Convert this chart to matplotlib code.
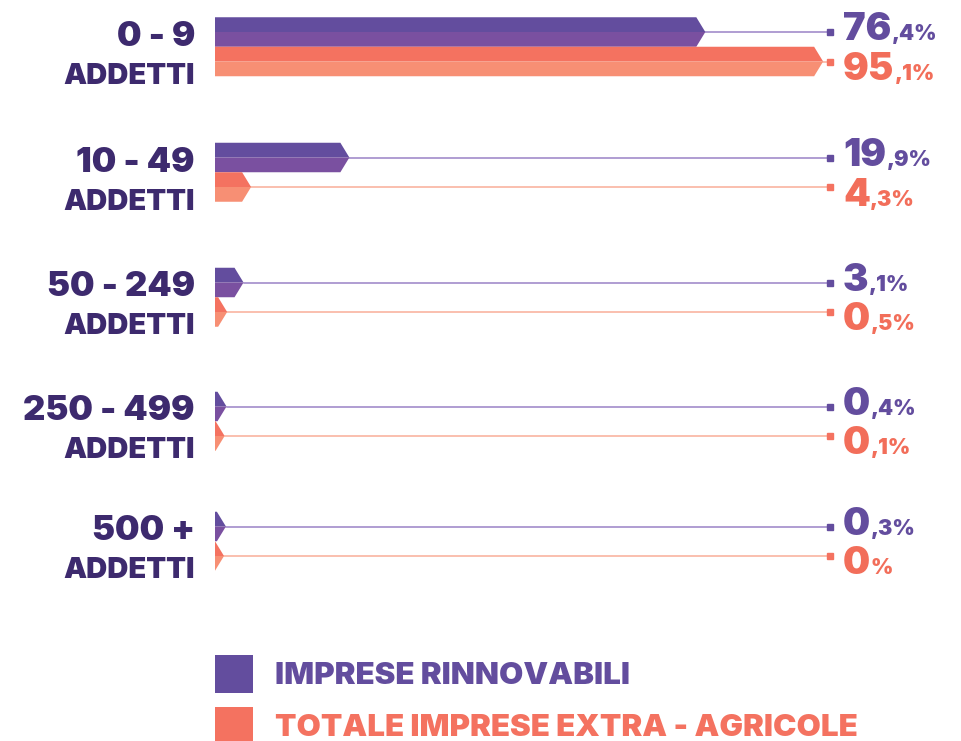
import matplotlib
matplotlib.use("Agg")
import matplotlib.pyplot as plt
from matplotlib.patches import Polygon, Rectangle

categories = ["0 - 9", "10 - 49", "50 - 249", "250 - 499", "500 +"]
sub_label = "ADDETTI"
rinnovabili = [76.4, 19.9, 3.1, 0.4, 0.3]
rinnovabili_lbl = [("76", ",4%"), ("19", ",9%"), ("3", ",1%"), ("0", ",4%"), ("0", ",3%")]
totale = [95.1, 4.3, 0.5, 0.1, 0.0]
totale_lbl = [("95", ",1%"), ("4", ",3%"), ("0", ",5%"), ("0", ",1%"), ("0", "%")]
series_names = ["IMPRESE RINNOVABILI", "TOTALE IMPRESE EXTRA - AGRICOLE"]

PURPLE_TOP = "#634d9e"
PURPLE_BOT = "#7a50a0"
PURPLE_LINE = "#9a82c6"
PURPLE_TXT = "#634d9e"
ORANGE_TOP = "#f47260"
ORANGE_BOT = "#f78f74"
ORANGE_LINE = "#f9ad98"
ORANGE_TXT = "#f26e5a"
DARK = "#3d2a6e"
FONT = "Inter"
WEIGHT = 900

W, H = 962, 741
PX = 6.3  # pixels per percent
X0 = 215
fig = plt.figure(figsize=(W / 100, H / 100), dpi=100)
ax = fig.add_axes([0, 0, 1, 1])
ax.set_xlim(-X0 / PX, (W - X0) / PX)
ax.set_ylim(H, 0)
ax.axis("off")

tip = 9 / PX
bar_h = 29.5
line_end = (830 - X0) / PX
lbl_x = (843 - X0) / PX
group_y = [32, 157.5, 282.5, 406.5, 526.5]  # layout: vertical centre of each group's first bar


def arrow(v, cy, ctop, cbot):
    top = cy - bar_h / 2
    bot = cy + bar_h / 2
    ax.add_patch(Polygon([(0, top), (v, top), (v + tip, cy), (0, cy)],
                         closed=True, facecolor=ctop, edgecolor="none"))
    ax.add_patch(Polygon([(0, cy), (v + tip, cy), (v, bot), (0, bot)],
                         closed=True, facecolor=cbot, edgecolor="none"))


def value_label(parts, y, color):
    t = ax.text(lbl_x, y, parts[0], fontsize=27.5, fontweight=WEIGHT, family=FONT,
                color=color, ha="left", va="baseline")
    fig.canvas.draw()
    bb = t.get_window_extent()
    inv = ax.transData.inverted()
    x_end = inv.transform((bb.x1, 0))[0]
    ax.text(x_end + 0.05, y, parts[1], fontsize=15.5, fontweight=WEIGHT, family=FONT,
            color=color, ha="left", va="baseline")


for i, cat in enumerate(categories):
    cp = group_y[i]
    co = cp + bar_h
    ax.plot([rinnovabili[i] + tip, line_end], [cp, cp], color=PURPLE_LINE, lw=1.1, zorder=1)
    ax.plot([line_end], [cp], marker="s", ms=5, color=PURPLE_TOP, zorder=2)
    ax.plot([totale[i] + tip, line_end], [co, co], color=ORANGE_LINE, lw=1.1, zorder=1)
    ax.plot([line_end], [co], marker="s", ms=5, color=ORANGE_TOP, zorder=2)
    arrow(rinnovabili[i], cp, PURPLE_TOP, PURPLE_BOT)
    arrow(totale[i], co, ORANGE_TOP, ORANGE_BOT)
    value_label(rinnovabili_lbl[i], cp + 8.5, PURPLE_TXT)
    value_label(totale_lbl[i], co + 18.5, ORANGE_TXT)
    lx = (195 - X0) / PX
    ax.text(lx, cp + 14, cat, fontsize=25, fontweight=WEIGHT, family=FONT,
            color=DARK, ha="right", va="baseline")
    ax.text(lx, cp + 52, sub_label, fontsize=21, fontweight=WEIGHT, family=FONT,
            color=DARK, ha="right", va="baseline")

sq = 38
for j, (name, col) in enumerate(zip(series_names, [PURPLE_TOP, ORANGE_TOP])):
    y_top = 655 + 52 * j
    ax.add_patch(Rectangle((0, y_top), sq / PX, sq, facecolor=col, edgecolor="none"))
    ax.text((275 - X0) / PX, y_top + 29.5, name, fontsize=22.5, fontweight=WEIGHT, family=FONT,
            color=col, ha="left", va="baseline")

fig.savefig("out.png", dpi=100)
